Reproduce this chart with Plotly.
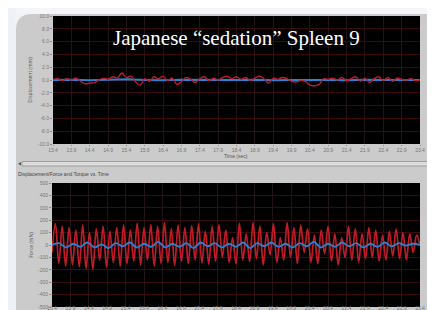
import numpy as np
import plotly.graph_objects as go

W, H = 435, 310

# ---------------- data ----------------
time_ticks = [13.4, 13.9, 14.4, 14.9, 15.4, 15.9, 16.4, 16.9, 17.4, 17.9, 18.4,
              18.9, 19.4, 19.9, 20.4, 20.9, 21.4, 21.9, 22.4, 22.9, 23.4]
t_start, t_end = 13.4, 23.4

disp_left_ticks = [-10, -8, -6, -4, -2, 0, 2, 4, 6, 8, 10]
disp_right_ticks = [-1.0, -0.8, -0.6, -0.4, -0.2, 0.0, 0.2, 0.4, 0.6, 0.8, 1.0]
force_left_ticks = [-500, -400, -300, -200, -100, 0, 100, 200, 300, 400, 500]
torque_right_ticks = [-250, -200, -150, -100, -50, 0, 50, 100, 150, 200, 250]

# top chart: displacement (red) and reference (blue)
disp_red = [0.1, 0.2, -0.1, 0.2, 0.0, 0.3, -0.2, -0.6, -0.5, -0.4, 0.0, 0.3, 0.1, 0.5,
            0.3, 1.1, 0.4, 0.6, -0.3, -0.8, 0.2, -0.2, 0.5, 0.2, 0.6, -0.1, 0.3, -0.7,
            -0.3, 0.4, 0.1, -0.4, 0.2, 0.5, -0.1, 0.3, 0.0, 0.4, 0.6, 0.2, 0.5, 0.1,
            0.4, -0.1, 0.3, 0.6, 0.2, -0.5, 0.3, 0.1, 0.4, 0.2, -0.2, -0.3, -0.1, -0.2,
            -0.8, -0.9, -0.7, 0.2, 0.1, 0.3, 0.0, 0.4, -0.1, 0.2, 0.5, -0.2, 0.3, -0.4,
            0.2, 0.5, -0.1, 0.4, -0.2, 0.3, 0.1, 0.0, 0.2, -0.1, 0.0]
disp_blue = [0.0, 0.05, -0.05, 0.0, 0.1, 0.0, -0.05, 0.05, 0.0, 0.05, 0.0,
             0.05, -0.05, 0.0, 0.05, 0.0, -0.05, 0.05, 0.0, 0.05, 0.0]

# bottom chart: force (red) and torque (blue)
force_red = [-60, 170, -150, 150, -170, 140, -160, 120, -175, 160, -190, 100, -195, 130,
             -120, 150, -180, 110, -140, 140, -170, 160, -150, 120, -130, 175, -160, 140,
             -120, 165, -170, 150, -150, 180, -140, 130, -165, 160, -130, 140, -150, 155,
             -120, 170, -145, 110, -155, 150, -130, 165, -100, 120, -140, 60, -150, 175,
             -120, 90, -135, 180, -110, 150, -160, 100, -80, 170, -140, 60, -120, 180,
             -100, 140, -150, 160, -60, 130, -140, 80, -150, 120, -70, 150, -130, 90,
             -160, 60, -100, 150, -120, 130, -140, 90, -110, 140, -100, 120, -130, 80,
             -120, 110, -90, 130, -110, 100, -120, 90, -60, 80, 0]
torque_blue = [0, 15, -20, 10, -15, 20, -20, 5, -25, 15, -10, 20, -20, 10, -15, 25, -20,
               10, -15, 15, -25, 20, -10, 15, -20, 10, -15, 20, -25, 15, -10, 20, -15,
               10, -20, 15, -10, 25, -20, 10, -15, 20, -10, 15, -20, 10, -15, 20, -10,
               15, -5, 10, 0]

RED = "#c01c28"
BLUE = "#2c82d2"
HGRID = "#3a0a0c"
VGRID = "#221414"
TICK_FONT = dict(family="Liberation Sans", size=5, color="#777777")


def tx(px):
    return px / W


def ty(py):
    return 1 - py / H


fig = go.Figure()

fig.add_trace(go.Scatter(x=np.linspace(t_start, t_end, len(disp_blue)), y=disp_blue,
                         mode="lines", line=dict(color=BLUE, width=2),
                         xaxis="x", yaxis="y", showlegend=False))
fig.add_trace(go.Scatter(x=np.linspace(t_start, t_end, len(disp_red)), y=disp_red,
                         mode="lines", line=dict(color=RED, width=1.4, shape="spline"),
                         xaxis="x", yaxis="y", showlegend=False))
fig.add_trace(go.Scatter(x=np.linspace(t_start, t_end, len(force_red)), y=force_red,
                         mode="lines", line=dict(color=RED, width=1.7, shape="spline"),
                         xaxis="x2", yaxis="y2", showlegend=False))
fig.add_trace(go.Scatter(x=np.linspace(t_start, t_end, len(torque_blue)), y=torque_blue,
                         mode="lines", line=dict(color=BLUE, width=1.8, shape="spline"),
                         xaxis="x2", yaxis="y2", showlegend=False))

xcommon = dict(range=[t_start, t_end], tickvals=time_ticks,
               ticktext=[f"{v:.1f}" for v in time_ticks], tickfont=TICK_FONT,
               showgrid=True, gridcolor=VGRID, gridwidth=1, zeroline=False,
               ticks="outside", ticklen=1, tickcolor="#8a8a8a", showline=False,
               automargin=False)
ycommon = dict(showgrid=True, gridcolor=HGRID, gridwidth=1, zeroline=False,
               tickfont=TICK_FONT, ticks="outside", ticklen=2, tickcolor="#8a8a8a",
               showline=False, automargin=False)

top_dom = [ty(136), ty(8)]
bot_dom = [ty(299), ty(175)]

fig.update_layout(
    template="none",
    width=W, height=H,
    margin=dict(l=0, r=0, t=0, b=0),
    paper_bgcolor="#cbcbcb",
    plot_bgcolor="#000000",
    xaxis=dict(domain=[tx(45), tx(412)], anchor="y", **xcommon),
    yaxis=dict(domain=top_dom, anchor="x", range=[-10, 10], tickvals=disp_left_ticks,
               ticktext=[f"{v:.1f}" for v in disp_left_ticks],
               title=dict(text="Displacement (mm)", font=dict(size=5, color="#555"), standoff=4),
               **ycommon),
    yaxis3=dict(overlaying="y", anchor="x", side="right", range=[-1, 1],
                tickvals=disp_right_ticks, ticktext=[f"{v:.1f}" for v in disp_right_ticks],
                showgrid=False, zeroline=False, tickfont=TICK_FONT, ticks="outside",
                ticklen=2, tickcolor="#8a8a8a", automargin=False,
                title=dict(text="Force (N)", font=dict(size=5, color="#a03030"), standoff=3)),
    xaxis2=dict(domain=[tx(44), tx(412)], anchor="y2", **xcommon),
    yaxis2=dict(domain=bot_dom, anchor="x2", range=[-500, 500], tickvals=force_left_ticks,
                ticktext=[str(v) for v in force_left_ticks],
                title=dict(text="Force (mN)", font=dict(size=5, color="#555"), standoff=4),
                **ycommon),
    yaxis4=dict(overlaying="y2", anchor="x2", side="right", range=[-250, 250],
                tickvals=torque_right_ticks, ticktext=[f"{v:.1f}" for v in torque_right_ticks],
                showgrid=False, zeroline=False, tickfont=TICK_FONT, ticks="outside",
                ticklen=2, tickcolor="#8a8a8a", automargin=False),
    showlegend=False,
)
fig.update_layout(xaxis2=dict(ticklen=0, ticklabelstandoff=-4))

# white slide background at top-left with rounded corner of the grey panel
shapes = [
    dict(type="rect", xref="paper", yref="paper", x0=0, x1=1, y0=ty(6), y1=1,
         fillcolor="#f3f5f8", line=dict(width=0), layer="below"),
    dict(type="rect", xref="paper", yref="paper", x0=0, x1=tx(8), y0=0, y1=1,
         fillcolor="#eef2f6", line=dict(width=0), layer="below"),
    dict(type="path", xref="paper", yref="paper",
         path=(f"M {tx(8)},{ty(22)} Q {tx(8)},{ty(6)} {tx(24)},{ty(6)} "
               f"L {tx(24)},{ty(5)} L {tx(7)},{ty(5)} L {tx(7)},{ty(22)} Z"),
         fillcolor="#f1f4f7", line=dict(width=0), layer="below"),
    # scrollbar
    dict(type="rect", xref="paper", yref="paper", x0=tx(14), x1=tx(433), y0=ty(158), y1=ty(153.5),
         fillcolor="#dcdcdc", line=dict(color="#9c9c9c", width=1), layer="below"),
    dict(type="path", xref="paper", yref="paper",
         path=f"M {tx(10)},{ty(155.8)} L {tx(13)},{ty(154)} L {tx(13)},{ty(157.6)} Z",
         fillcolor="#555", line=dict(width=0), layer="below"),
]
fig.update_layout(shapes=shapes)

fig.add_annotation(text="Japanese “sedation” Spleen 9", xref="paper", yref="paper",
                   x=tx(228), y=ty(30), showarrow=False, xanchor="center", yanchor="middle",
                   font=dict(family="Liberation Serif", size=21, color="white"))
fig.add_annotation(text="Time (sec)", xref="paper", yref="paper", x=tx(228), y=ty(147.5),
                   yanchor="middle", showarrow=False,
                   font=dict(family="Liberation Sans", size=5, color="#555"))
fig.add_annotation(text="Displacement/Force and Torque vs. Time", xref="paper", yref="paper",
                   x=tx(8), y=ty(166), xanchor="left", showarrow=False,
                   font=dict(family="Liberation Sans", size=5, color="#444"))

fig.write_html("out.html")
